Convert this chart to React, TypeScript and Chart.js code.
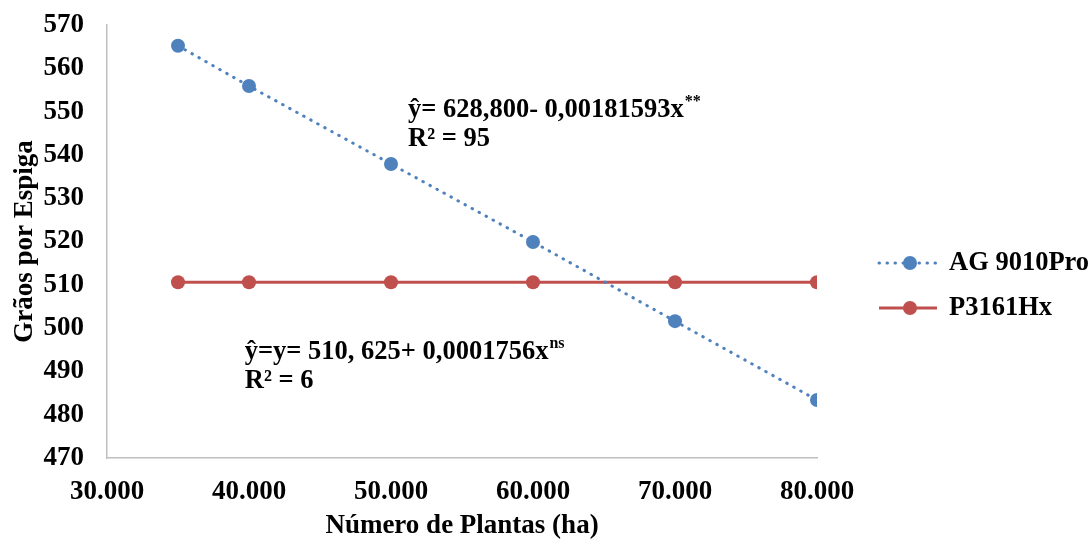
import React, { useEffect, useRef } from "react";
import { Chart, registerables } from "chart.js";

Chart.register(...registerables);

// Plant population (plants per ha)
const plantas = [35000, 40000, 50000, 60000, 70000, 80000];
// Grains per ear for each hybrid
const ag9010Pro = [565.2, 555.9, 537.9, 519.9, 501.6, 483.4];
const p3161Hx = [510.6, 510.6, 510.6, 510.6, 510.6, 510.6];

const seriesNames = ["AG 9010Pro", "P3161Hx"];
const seriesColors = ["#4f81bd", "#c0504d"];

const xMin = 30000;
const xMax = 80000;
const xStep = 10000;
const yMin = 470;
const yMax = 570;
const yStep = 10;

const xTitle = "Número de Plantas (ha)";
const yTitle = "Grãos por Espiga";

// Regression equations: text, superscript, R², anchor (baseline) in data units
const eqAG = { main: "ŷ= 628,800- 0,00181593x", sup: "**", r2: "R² = 95", x: 51200, y: 548.8 };
const eqP = { main: "ŷ=y= 510, 625+ 0,0001756x", sup: "ns", r2: "R² = 6", x: 39700, y: 492.9 };

const FONT = "'Liberation Serif', 'Times New Roman', serif";
const DOT_DASH = [0.5, 7.5];

function fmtThousands(v: number): string {
  const s = Math.round(v).toString();
  return s.replace(/\B(?=(\d{3})+(?!\d))/g, ".");
}

const overlayPlugin = {
  id: "overlay",
  afterDraw(chart: any) {
    const ctx: CanvasRenderingContext2D = chart.ctx;
    const area = chart.chartArea;
    const xs = chart.scales.x;
    const ys = chart.scales.y;
    ctx.save();
    ctx.fillStyle = "#000";

    // axis titles
    ctx.font = `bold 27px ${FONT}`;
    ctx.textAlign = "center";
    ctx.textBaseline = "middle";
    ctx.fillText(xTitle, (area.left + area.right) / 2, 526);
    ctx.save();
    ctx.translate(25, (area.top + area.bottom) / 2);
    ctx.rotate(-Math.PI / 2);
    ctx.fillText(yTitle, 0, 0);
    ctx.restore();

    // equations
    const drawEq = (eq: typeof eqAG) => {
      const px = xs.getPixelForValue(eq.x);
      const py = ys.getPixelForValue(eq.y);
      ctx.textAlign = "left";
      ctx.textBaseline = "alphabetic";
      ctx.font = `bold 26.5px ${FONT}`;
      ctx.fillText(eq.main, px, py);
      const w = ctx.measureText(eq.main).width;
      ctx.font = `bold 16px ${FONT}`;
      ctx.fillText(eq.sup, px + w + 1, py - 11);
      ctx.font = `bold 26.5px ${FONT}`;
      ctx.fillText(eq.r2, px, py + 29);
    };
    drawEq(eqAG);
    drawEq(eqP);

    // legend
    const rows = [263, 308];
    const lx0 = area.right + 62;
    const lx1 = area.right + 120;
    const mx = area.right + 93;
    seriesNames.forEach((name, i) => {
      const y = rows[i];
      ctx.save();
      ctx.strokeStyle = seriesColors[i];
      ctx.lineWidth = 3;
      if (i === 0) {
        ctx.setLineDash(DOT_DASH);
        ctx.lineCap = "round";
      }
      ctx.beginPath();
      ctx.moveTo(lx0, y);
      ctx.lineTo(lx1, y);
      ctx.stroke();
      ctx.setLineDash([]);
      ctx.fillStyle = seriesColors[i];
      ctx.beginPath();
      ctx.arc(mx, y, 7, 0, Math.PI * 2);
      ctx.fill();
      ctx.restore();
      ctx.fillStyle = "#000";
      ctx.font = `bold 26.5px ${FONT}`;
      ctx.textAlign = "left";
      ctx.textBaseline = "middle";
      ctx.fillText(name, area.right + 132, y);
    });
    ctx.restore();
  },
};

export default function App() {
  const canvasRef = useRef<HTMLCanvasElement | null>(null);

  useEffect(() => {
    document.body.style.margin = "0";
    const canvas = canvasRef.current;
    if (!canvas) return;
    const chart = new Chart(canvas, {
      type: "line",
      data: {
        datasets: [
          {
            label: seriesNames[0],
            data: plantas.map((x, i) => ({ x, y: ag9010Pro[i] })),
            borderColor: seriesColors[0],
            backgroundColor: seriesColors[0],
            borderWidth: 3,
            borderDash: DOT_DASH,
            borderCapStyle: "round",
            pointRadius: 7,
            pointBorderWidth: 0,
            pointBackgroundColor: seriesColors[0],
            tension: 0,
          },
          {
            label: seriesNames[1],
            data: plantas.map((x, i) => ({ x, y: p3161Hx[i] })),
            borderColor: seriesColors[1],
            backgroundColor: seriesColors[1],
            borderWidth: 3,
            pointRadius: 7,
            pointBorderWidth: 0,
            pointBackgroundColor: seriesColors[1],
            tension: 0,
          },
        ],
      },
      options: {
        responsive: false,
        animation: false,
        devicePixelRatio: 1,
        layout: { padding: { left: 0, right: 274, top: 25, bottom: 0 } },
        plugins: {
          legend: { display: false },
          tooltip: { enabled: false },
        },
        scales: {
          x: {
            type: "linear",
            min: xMin,
            max: xMax,
            grid: { display: false, drawTicks: false },
            border: { display: true, color: "#bfbfbf", width: 1.5 },
            ticks: {
              stepSize: xStep,
              padding: 18,
              color: "#000",
              font: { family: FONT, size: 27, weight: "bold" },
              callback: (v: any) => fmtThousands(Number(v)),
            },
            afterFit: (scale: any) => {
              scale.height = 83;
              scale.paddingLeft = 0;
              scale.paddingRight = 0;
            },
          },
          y: {
            min: yMin,
            max: yMax,
            grid: { display: false, drawTicks: false },
            border: { display: true, color: "#bfbfbf", width: 1.5 },
            ticks: {
              stepSize: yStep,
              padding: 23,
              color: "#000",
              font: { family: FONT, size: 27, weight: "bold" },
            },
            afterFit: (scale: any) => {
              scale.width = 107;
              scale.paddingTop = 0;
              scale.paddingBottom = 0;
            },
          },
        },
      },
      plugins: [overlayPlugin],
    } as any);
    return () => chart.destroy();
  }, []);

  return (
    <div style={{ width: 1091, height: 541, background: "#fff" }}>
      <canvas ref={canvasRef} width={1091} height={541} />
    </div>
  );
}
